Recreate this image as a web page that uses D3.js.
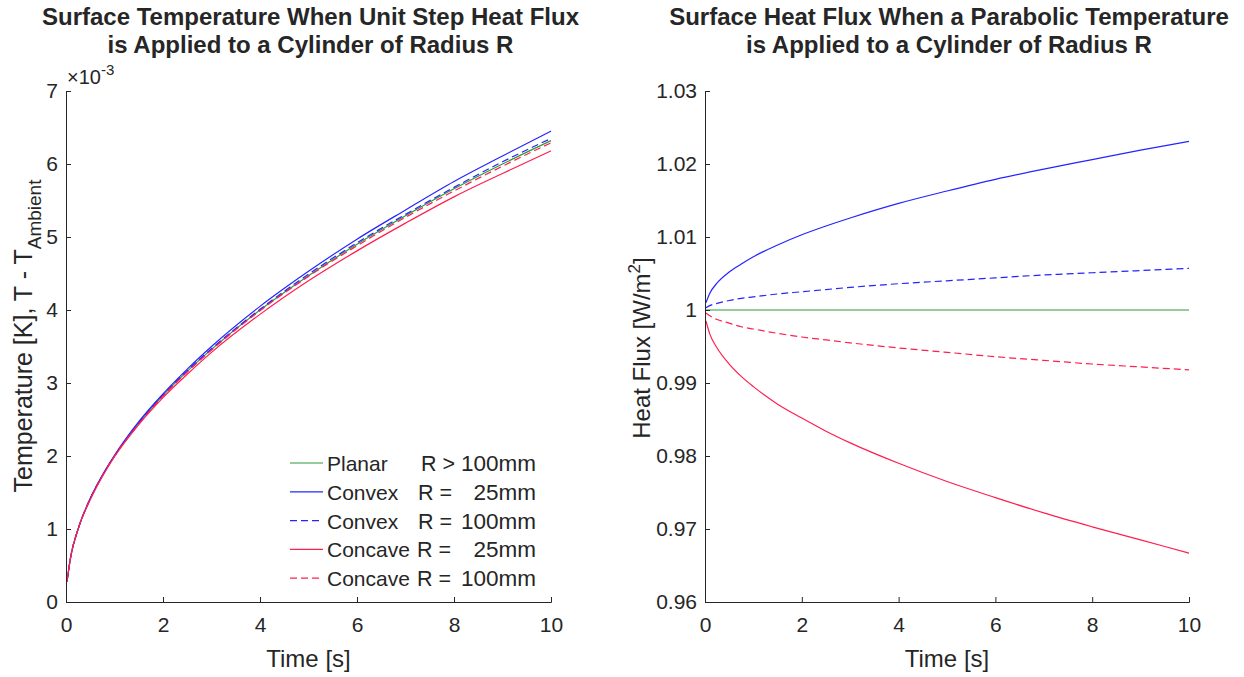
<!DOCTYPE html>
<html>
<head>
<meta charset="utf-8">
<script src="https://cdn.jsdelivr.net/npm/d3@7"></script>
<style>
  body { margin: 0; background: #fff; }
  text { font-family: "Liberation Sans", Arial, sans-serif; fill: #262626; }
</style>
</head>
<body>
<div id="chart"></div>
<script>
// time samples [s]
const time = [0.02, 0.1, 0.25, 0.5, 0.75, 1, 1.5, 2, 2.5, 3, 4, 5, 6, 7, 8, 9, 10];

// left panel: surface temperature rise (x 1e-3 K)
const tPlanar     = [0.28, 0.63, 1.00, 1.41, 1.73, 2.00, 2.45, 2.83, 3.16, 3.46, 4.00, 4.47, 4.90, 5.29, 5.66, 6.00, 6.32];
const tConvex25   = [0.28, 0.63, 1.00, 1.42, 1.74, 2.01, 2.47, 2.85, 3.19, 3.50, 4.05, 4.53, 4.97, 5.37, 5.76, 6.11, 6.45];
const tConvex100  = [0.28, 0.63, 1.00, 1.42, 1.73, 2.00, 2.45, 2.84, 3.17, 3.47, 4.01, 4.49, 4.92, 5.31, 5.68, 6.03, 6.35];
const tConcave25  = [0.28, 0.63, 1.00, 1.40, 1.72, 1.99, 2.43, 2.80, 3.12, 3.42, 3.94, 4.40, 4.81, 5.19, 5.55, 5.87, 6.18];
const tConcave100 = [0.28, 0.63, 1.00, 1.41, 1.73, 2.00, 2.44, 2.82, 3.15, 3.45, 3.99, 4.46, 4.88, 5.27, 5.63, 5.97, 6.29];

// right panel: surface heat flux [W/m^2]
const qPlanar     = [1, 1, 1, 1, 1, 1, 1, 1, 1, 1, 1, 1, 1, 1, 1, 1, 1];
const qConvex25   = [1.0010, 1.0023, 1.0037, 1.0052, 1.0063, 1.0073, 1.0089, 1.0103, 1.0115, 1.0126, 1.0146, 1.0163, 1.0179, 1.0193, 1.0206, 1.0219, 1.0231];
const qConvex100  = [1.0003, 1.0006, 1.0009, 1.0013, 1.0016, 1.0018, 1.0022, 1.0025, 1.0028, 1.0031, 1.0036, 1.0040, 1.0044, 1.0048, 1.0051, 1.0054, 1.0057];
const qConcave25  = [0.9985, 0.9967, 0.9948, 0.9926, 0.9909, 0.9895, 0.9871, 0.9852, 0.9834, 0.9818, 0.9790, 0.9765, 0.9743, 0.9722, 0.9703, 0.9685, 0.9667];
const qConcave100 = [0.9996, 0.9992, 0.9987, 0.9982, 0.9977, 0.9974, 0.9968, 0.9963, 0.9959, 0.9955, 0.9948, 0.9942, 0.9936, 0.9931, 0.9926, 0.9922, 0.9918];

const xTicks = [0, 2, 4, 6, 8, 10];
const tTicks = [0, 1, 2, 3, 4, 5, 6, 7];
const qTicks = [0.96, 0.97, 0.98, 0.99, 1, 1.01, 1.02, 1.03];

const legendNames = ["Planar", "Convex", "Convex", "Concave", "Concave"];
const legendRel   = ["R >", "R =", "R =", "R =", "R ="];
const legendSize  = ["100mm", "25mm", "100mm", "25mm", "100mm"];

const green = "#2f9a3a", blue = "#2424ff", red = "#ff1f4f";
const styles = [
  { color: green, dash: null },
  { color: blue, dash: null },
  { color: blue, dash: "7,4" },
  { color: red, dash: null },
  { color: red, dash: "7,4" }
];

const width = 1244, height = 677;
const svg = d3.select("#chart").append("svg")
  .attr("width", width).attr("height", height);

// one panel: axes, curves, titles
function panel(opts) {
  const x = d3.scaleLinear().domain([0, 10]).range([opts.left, opts.right]);
  const y = d3.scaleLinear().domain(opts.yDomain).range([602, 91]);
  const g = svg.append("g");

  // curves
  const line = d3.line()
    .x((d, i) => x(time[i]))
    .y(d => y(d))
    .curve(d3.curveMonotoneX);
  opts.series.forEach((s, k) => {
    g.append("path")
      .datum(s)
      .attr("fill", "none")
      .attr("stroke", styles[k].color)
      .attr("stroke-width", 1.2)
      .attr("stroke-dasharray", styles[k].dash)
      .attr("d", line);
  });

  // axes, MATLAB style ticks pointing in
  const xa = g.append("g")
    .attr("transform", `translate(0,${y.range()[0]})`)
    .call(d3.axisBottom(x).tickValues(xTicks).tickSizeInner(-5).tickSizeOuter(-5).tickPadding(10));
  const ya = g.append("g")
    .attr("transform", `translate(${opts.left},0)`)
    .call(d3.axisLeft(y).tickValues(opts.yTicks).tickFormat(opts.fmt).tickSizeInner(-5).tickSizeOuter(-5).tickPadding(8));
  [xa, ya].forEach(a => {
    a.selectAll("text").attr("font-size", 21).attr("fill", "#262626")
      .style("font-family", "Liberation Sans, Arial, sans-serif");
    a.selectAll("line").attr("stroke", "#262626");
    a.select(".domain").attr("stroke", "#262626");
  });
  xa.selectAll("text").attr("dy", "0.95em");

  // titles
  const cx = (opts.left + opts.right) / 2;
  opts.title.forEach((t, i) => {
    g.append("text").attr("x", cx + 2).attr("y", 25 + i * 28)
      .attr("text-anchor", "middle").attr("font-size", 24).attr("font-weight", "bold")
      .attr("fill", "#000").text(t);
  });
  g.append("text").attr("x", cx).attr("y", 667)
    .attr("text-anchor", "middle").attr("font-size", 24).text("Time [s]");
  return { x, y, g };
}

const left = panel({
  left: 66, right: 551, yDomain: [0, 7], yTicks: tTicks, fmt: d3.format("d"),
  series: [tPlanar, tConvex25, tConvex100, tConcave25, tConcave100],
  title: ["Surface Temperature When Unit Step Heat Flux", "is Applied to a Cylinder of Radius R"]
});
const right = panel({
  left: 705, right: 1189, yDomain: [0.96, 1.03], yTicks: qTicks, fmt: d => d3.format(".2f")(d).replace(/\.00$/, ""),
  series: [qPlanar, qConvex25, qConvex100, qConcave25, qConcave100],
  title: ["Surface Heat Flux When a Parabolic Temperature", "is Applied to a Cylinder of Radius R"]
});

// exponent marker
const ex = left.g.append("text").attr("x", 67).attr("y", 84).attr("font-size", 20);
ex.append("tspan").text("\u00d710");
ex.append("tspan").attr("font-size", 15).attr("dy", -9).text("-3");

// y labels
const yl = left.g.append("text")
  .attr("transform", "translate(32,336) rotate(-90)")
  .attr("text-anchor", "middle").attr("font-size", 25);
yl.append("tspan").text("Temperature [K], T - T");
yl.append("tspan").attr("font-size", 19).attr("dy", 9).text("Ambient");

const yr = right.g.append("text")
  .attr("transform", "translate(650,348) rotate(-90)")
  .attr("text-anchor", "middle").attr("font-size", 24);
yr.append("tspan").text("Heat Flux [W/m");
yr.append("tspan").attr("font-size", 17).attr("dy", -10).text("2");
yr.append("tspan").attr("dy", 10).text("]");

// legend
const relX = [421, 418, 418, 417, 417];
const lg = left.g.append("g");
legendNames.forEach((n, i) => {
  const yy = 463 + i * 28.8;
  lg.append("line").attr("x1", 290).attr("x2", 323).attr("y1", yy).attr("y2", yy)
    .attr("stroke", styles[i].color).attr("stroke-width", 1.2)
    .attr("stroke-dasharray", styles[i].dash);
  lg.append("text").attr("x", 327).attr("y", yy + 8).attr("font-size", 21).text(n);
  lg.append("text").attr("x", relX[i]).attr("y", yy + 8).attr("font-size", 21.5).text(legendRel[i]);
  lg.append("text").attr("x", 536).attr("y", yy + 8).attr("font-size", 22.5)
    .attr("text-anchor", "end").text(legendSize[i]);
});
</script>
</body>
</html>
